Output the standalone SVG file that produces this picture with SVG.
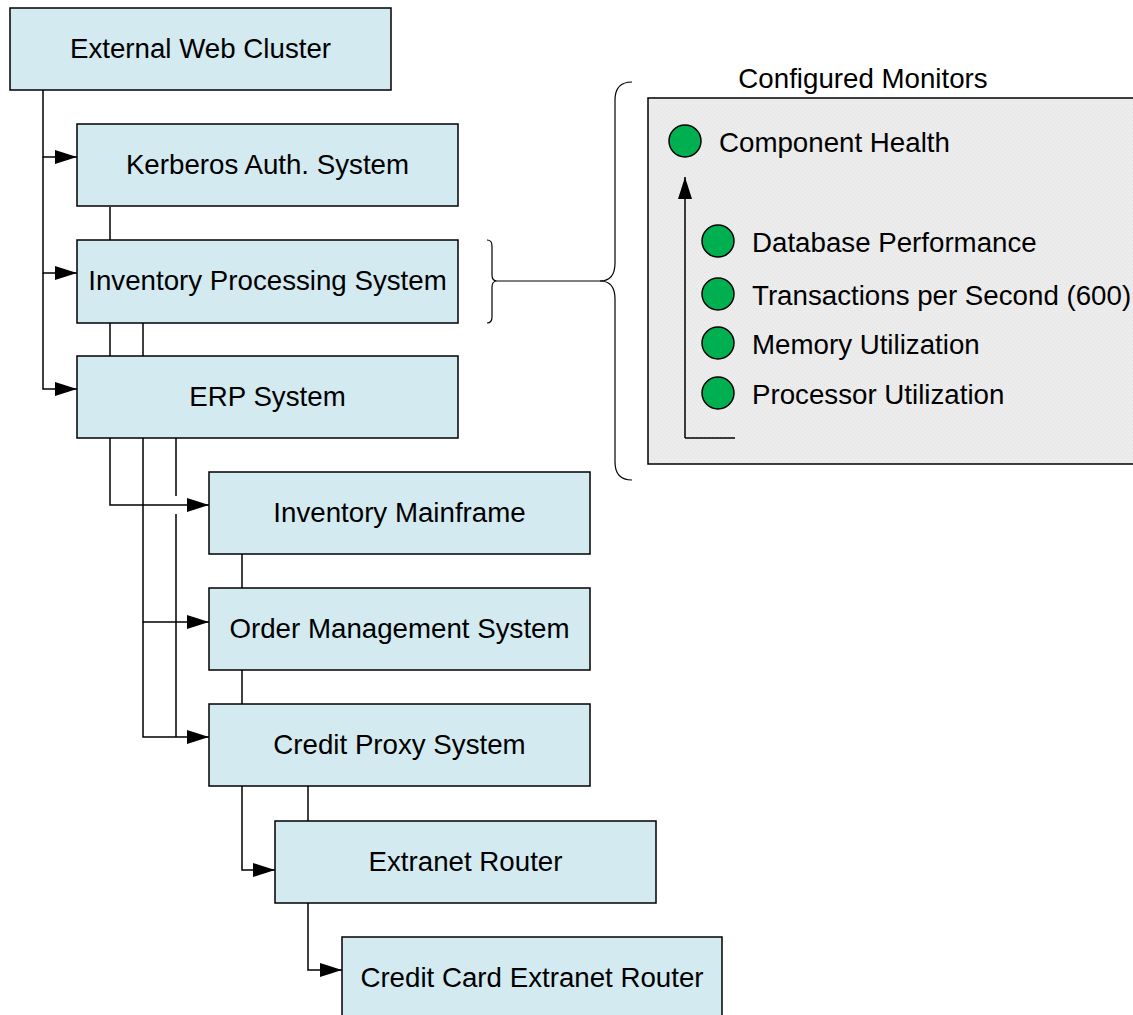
<svg xmlns="http://www.w3.org/2000/svg" width="1133" height="1015" viewBox="0 0 1133 1015">
<style>
.node rect{fill:#d3eaf0;stroke:#000;stroke-width:1.5}
.node text,.lbl{font-family:"Liberation Sans",Arial,sans-serif;font-size:27.7px;fill:#000}
.node text{text-anchor:middle}
.conn path{fill:none;stroke:#000;stroke-width:1.5}
.dot{fill:#00b050;stroke:#000;stroke-width:1.5}
.brace{fill:none;stroke:#000;stroke-width:1.2}
</style>
<defs>
<marker id="arr" viewBox="0 0 22 14" refX="22" refY="7" markerWidth="22" markerHeight="14" markerUnits="userSpaceOnUse" orient="auto">
<path d="M0,0 L22,7 L0,14 Z" fill="#000"/>
</marker>
<pattern id="grain" width="4" height="4" patternUnits="userSpaceOnUse">
<rect width="4" height="4" fill="#ececec"/>
<rect width="1" height="1" fill="#e2e2e2"/>
<rect x="2" y="2" width="1" height="1" fill="#e2e2e2"/>
</pattern>
</defs>
<rect width="1133" height="1015" fill="#fff"/>

<g id="monitors">
<text class="lbl" x="863" y="88" text-anchor="middle">Configured Monitors</text>
<rect x="648" y="98" width="500" height="366" fill="url(#grain)" stroke="#000" stroke-width="1.5"/>
<circle class="dot" cx="685" cy="141" r="16"/>
<text class="lbl" x="719" y="152">Component Health</text>
<path d="M685,438 V177" fill="none" stroke="#000" stroke-width="1.5" marker-end="url(#arr)"/>
<path d="M685,438 H735" fill="none" stroke="#000" stroke-width="1.5"/>
<circle class="dot" cx="718" cy="241" r="16"/>
<text class="lbl" x="752" y="252">Database Performance</text>
<circle class="dot" cx="718" cy="294" r="16"/>
<text class="lbl" x="752" y="305">Transactions per Second (600)</text>
<circle class="dot" cx="718" cy="343" r="16"/>
<text class="lbl" x="752" y="354">Memory Utilization</text>
<circle class="dot" cx="718" cy="393" r="16"/>
<text class="lbl" x="752" y="404">Processor Utilization</text>
</g>

<g id="braces">
<path class="brace" d="M487,240 Q492,240 492,246 V275 Q492,281 497,281 Q492,281 492,287 V317 Q492,323 487,323"/>
<path class="brace" d="M497,281 H603"/>
<path class="brace" d="M632,82 Q615,82 615,100 V263 Q615,281 600,281 Q615,281 615,299 V462 Q615,480 632,480"/>
</g>

<g class="conn" id="connectors">
<path d="M43,90 V157 H77" marker-end="url(#arr)"/>
<path d="M43,157 V273 H77" marker-end="url(#arr)"/>
<path d="M43,273 V389 H77" marker-end="url(#arr)"/>
<path d="M110,207 V240"/>
<path d="M110,323 V356"/>
<path d="M143,323 V356"/>
<path d="M110,438 V505 H209" marker-end="url(#arr)"/>
<path d="M143,438 V622 H209" marker-end="url(#arr)"/>
<path d="M143,622 V737 H209" marker-end="url(#arr)"/>
<path d="M176,438 V496 M176,514 V737"/>
<path d="M242,554 V588"/>
<path d="M242,670 V704"/>
<path d="M242,786 V870 H275" marker-end="url(#arr)"/>
<path d="M308,786 V821"/>
<path d="M308,903 V970 H342" marker-end="url(#arr)"/>
</g>

<g class="node" id="n-external"><rect x="10" y="8" width="381" height="82"/><text x="200.5" y="58">External Web Cluster</text></g>
<g class="node" id="n-kerberos"><rect x="77" y="124" width="381" height="82"/><text x="267.5" y="174">Kerberos Auth. System</text></g>
<g class="node" id="n-invproc"><rect x="77" y="240" width="381" height="83"/><text x="267.5" y="290">Inventory Processing System</text></g>
<g class="node" id="n-erp"><rect x="77" y="356" width="381" height="82"/><text x="267.5" y="406">ERP System</text></g>
<g class="node" id="n-mainframe"><rect x="209" y="472" width="381" height="82"/><text x="399.5" y="522">Inventory Mainframe</text></g>
<g class="node" id="n-order"><rect x="209" y="588" width="381" height="82"/><text x="399.5" y="638">Order Management System</text></g>
<g class="node" id="n-creditproxy"><rect x="209" y="704" width="381" height="82"/><text x="399.5" y="754">Credit Proxy System</text></g>
<g class="node" id="n-extranet"><rect x="275" y="821" width="381" height="82"/><text x="465.5" y="871">Extranet Router</text></g>
<g class="node" id="n-ccrouter"><rect x="342" y="937" width="380" height="90"/><text x="532" y="987">Credit Card Extranet Router</text></g>
</svg>
